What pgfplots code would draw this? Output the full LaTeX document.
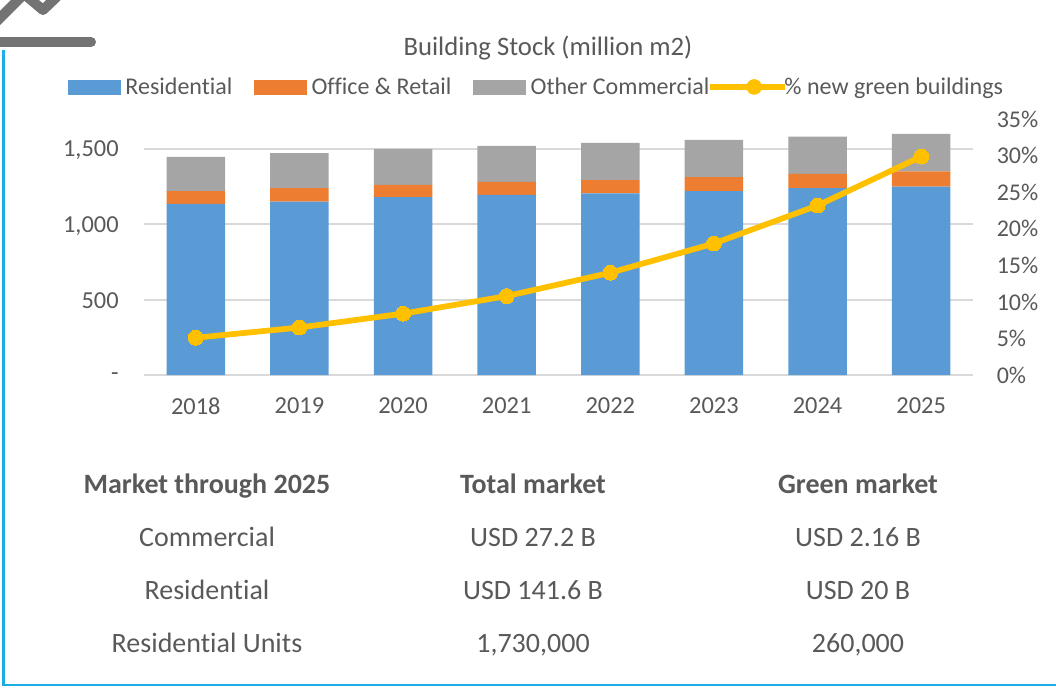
\documentclass[border=0pt]{standalone}
\usepackage{fontspec}
\setmainfont[Ligatures=NoCommon]{Carlito}
\usepackage{pgfplots}
\pgfplotsset{compat=1.18}
\usepackage{pgfplotstable}
\definecolor{cblue}{HTML}{5B9BD5}
\definecolor{corange}{HTML}{ED7D31}
\definecolor{cgray}{HTML}{A5A5A5}
\definecolor{cgold}{HTML}{FFC000}
\definecolor{ctext}{HTML}{595959}
\definecolor{cgrid}{HTML}{D9D9D9}
\definecolor{cframe}{HTML}{1CADE4}
\definecolor{clogo}{HTML}{737373}
\pgfplotstableread{
x res off oth pct
0 1135 86 226 5.1
1 1150 91 232 6.5
2 1181 80 239 8.4
3 1195 86 239 10.8
4 1205 89 246 14.0
5 1221 93 246 18.0
6 1241 93 248 23.2
7 1250 102 248 29.9
}\datatable
\begin{document}
\begin{tikzpicture}[x=0.75pt,y=-0.75pt]
\useasboundingbox (0,0) rectangle (1056,688);
\begin{scope}
\clip (0,0) rectangle (1056,688);
\draw[clogo,line width=7.5pt,line cap=round,line join=round] (-8,26) -- (24,-6) -- (43,10) -- (64,-10);
\draw[clogo,line width=7.5pt,line cap=round] (-10,42) -- (91,42);
\draw[cframe,line width=2.2pt] (3.5,50) -- (3.5,685) -- (1060,685);
\end{scope}
\begin{axis}[
  at={(144pt*0.75,-375pt*0.75)},anchor=south west,
  scale only axis,width=829*0.75pt,height=255.7*0.75pt,
  xmin=-0.5,xmax=7.5,ymin=0,ymax=1697,
  axis x line*=bottom,axis y line*=left,
  axis line style={draw=none},
  x axis line style={draw=cgrid,line width=1.5pt},
  y axis line style={draw=none},
  xtick=data,xticklabels={2018,2019,2020,2021,2022,2023,2024,2025},
  ytick={0,500,1000,1500},
  yticklabels={-,500,{1,000},{1,500}},
  major tick length=0pt,
  ymajorgrids,grid style={cgrid,line width=1.5pt},
  ticklabel style={font=\fontsize{18.3}{20}\selectfont,text=ctext},
  xticklabel style={yshift=-13.5pt},
  yticklabel style={xshift=-15.5pt,yshift=-1pt},
  ybar stacked,bar width=58.5*0.75pt,
]
\addplot[fill=cblue,draw=none] table[x=x,y=res]{\datatable};
\addplot[fill=corange,draw=none] table[x=x,y=off]{\datatable};
\addplot[fill=cgray,draw=none] table[x=x,y=oth]{\datatable};
\end{axis}
\begin{axis}[
  at={(144pt*0.75,-375pt*0.75)},anchor=south west,
  scale only axis,width=829*0.75pt,height=255.7*0.75pt,
  xmin=-0.5,xmax=7.5,ymin=0,ymax=35,
  axis x line=none,axis y line*=right,
  y axis line style={draw=none},
  ytick={0,5,...,35},yticklabel={\pgfmathprintnumber{\tick}\%},
  /pgf/number format/assume math mode=true,
  major tick length=0pt,
  ticklabel style={font=\fontsize{18}{20}\selectfont,text=ctext},
  yticklabel style={anchor=west,xshift=14.3pt},
  legend columns=4,
  legend cell align=left,
  legend style={draw=none,fill=none,at={(rel axis cs:-0.0965,1.1265)},anchor=west,
    font=\fontsize{18}{20}\selectfont,text=ctext,
    /tikz/every even column/.append style={column sep=14.5pt},
    /tikz/every odd column/.append style={column sep=1.5pt}},
]
\addlegendimage{legend image code/.code={\fill[cblue] (0pt,-5.25pt) rectangle (39pt,5.25pt);}}
\addlegendentry{Residential}
\addlegendimage{legend image code/.code={\fill[corange] (0pt,-5.25pt) rectangle (39pt,5.25pt);}}
\addlegendentry{Office \& Retail}
\addlegendimage{legend image code/.code={\fill[cgray] (0pt,-5.25pt) rectangle (39pt,5.25pt);}}
\addlegendentry{Other Commercial}
\addlegendimage{legend image code/.code={\path (0pt,0pt) -- (36pt,0pt);\draw[overlay,cgold,line width=4.2pt] (-16pt,0pt) -- (40pt,0pt);\fill[overlay,cgold] (17pt,0pt) circle (5.6pt);}}
\addlegendentry{\% new green buildings}
\addplot[cgold,line width=4.3pt,mark=*,mark size=5.6pt,mark options={fill=cgold,draw=cgold,line width=0pt},forget plot] table[x=x,y=pct]{\datatable};
\end{axis}
\begin{scope}[text=ctext,font=\fontsize{20}{22}\selectfont]
\node[anchor=base] at (548,55.5) {Building Stock (million m2)};
\end{scope}
\begin{scope}[text=ctext,font=\fontsize{21}{24}\selectfont]
\node[anchor=base] at (207,493) {\bfseries Market through 2025};
\node[anchor=base] at (533,493) {\bfseries Total market};
\node[anchor=base] at (858,493) {\bfseries Green market};
\node[anchor=base] at (207,546) {Commercial};
\node[anchor=base] at (533,546) {USD 27.2 B};
\node[anchor=base] at (858,546) {USD 2.16 B};
\node[anchor=base] at (207,599) {Residential};
\node[anchor=base] at (533,599) {USD 141.6 B};
\node[anchor=base] at (858,599) {USD 20 B};
\node[anchor=base] at (207,652) {Residential Units};
\node[anchor=base] at (533,652) {1,730,000};
\node[anchor=base] at (858,652) {260,000};
\end{scope}
\end{tikzpicture}
\end{document}
